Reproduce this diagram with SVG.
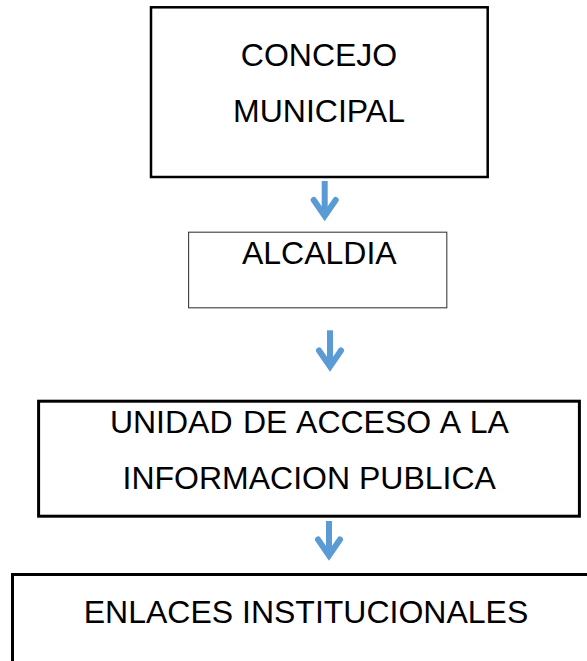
<svg xmlns="http://www.w3.org/2000/svg" width="587" height="661" viewBox="0 0 587 661">
  <style>
    .box { fill: #ffffff; stroke: #000000; }
    .thick { stroke-width: 2.5; }
    .thin { stroke: #3c3c3c; stroke-width: 1.1; }
    .lbl { font-family: "Liberation Sans", Arial, sans-serif; font-size: 32px; fill: #000000; text-anchor: middle; }
    .conn { stroke: #5b9bd5; stroke-width: 6; fill: none; stroke-linecap: butt; }
  </style>
  <defs>
    <marker id="chev" markerUnits="userSpaceOnUse" viewBox="-30 -20 40 40" markerWidth="40" markerHeight="40" refX="0" refY="0" orient="auto" overflow="visible">
      <path d="M -16 -11 L 0 0 L -16 11" fill="none" stroke="#5b9bd5" stroke-width="6" stroke-linecap="round" stroke-linejoin="miter"/>
    </marker>
  </defs>
  <rect width="587" height="661" fill="#ffffff"/>

  <g id="concejo">
    <rect class="box thick" x="151" y="7.3" width="336.7" height="169.7"/>
    <text class="lbl" x="319" y="66">CONCEJO</text>
    <text class="lbl" x="319" y="121.7">MUNICIPAL</text>
  </g>

  <g id="alcaldia">
    <rect class="box thin" x="188.6" y="232.2" width="258.2" height="75.6"/>
    <text class="lbl" x="319.3" y="264">ALCALDIA</text>
  </g>

  <g id="unidad">
    <rect class="box" stroke-width="3" x="38.6" y="401.2" width="540.8" height="115"/>
    <text class="lbl" x="309.4" y="433.3" word-spacing="1.5">UNIDAD DE ACCESO A LA</text>
    <text class="lbl" x="309.2" y="488.7">INFORMACION PUBLICA</text>
  </g>

  <g id="enlaces">
    <rect class="box" stroke-width="3" x="12.5" y="574.5" width="600" height="120"/>
    <text class="lbl" x="306" y="622.7">ENLACES INSTITUCIONALES</text>
  </g>

  <g id="connectors">
    <line class="conn" x1="324.7" y1="181" x2="324.7" y2="216" marker-end="url(#chev)"/>
    <line class="conn" x1="330" y1="330.3" x2="330" y2="366.5" marker-end="url(#chev)"/>
    <line class="conn" x1="329" y1="521" x2="329" y2="555.5" marker-end="url(#chev)"/>
  </g>
</svg>
